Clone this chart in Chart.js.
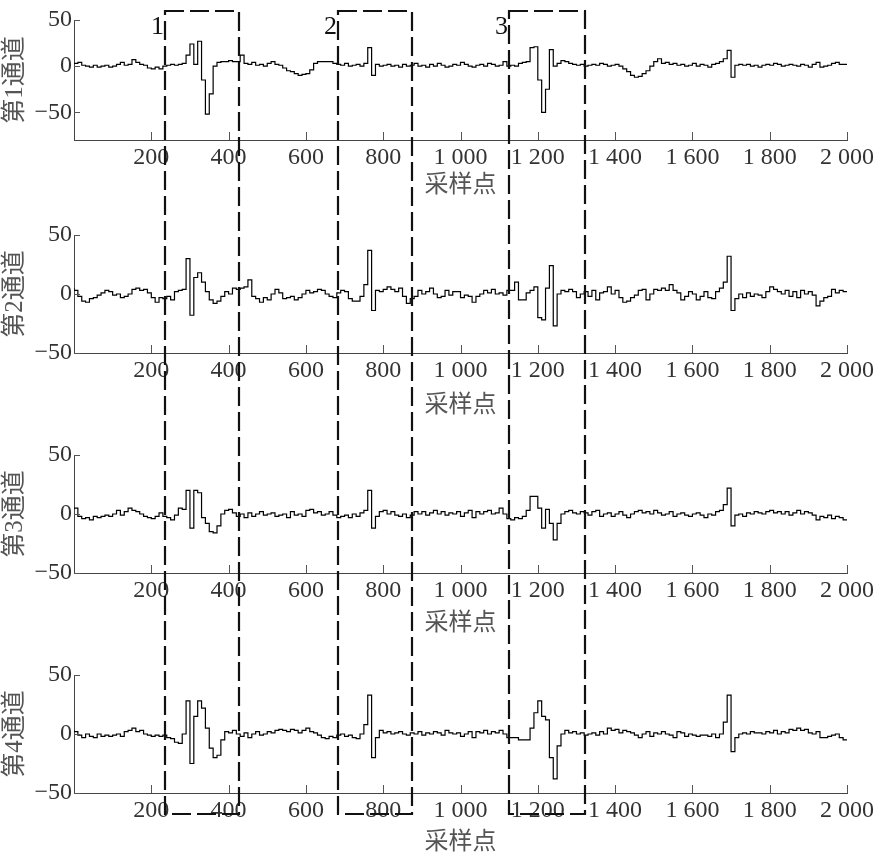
<!DOCTYPE html>
<html><head><meta charset="utf-8">
<script src="https://cdn.jsdelivr.net/npm/chart.js@4.4.1/dist/chart.umd.min.js"></script>
<style>
html,body{margin:0;padding:0;background:#fff;}
#wrap{position:relative;width:886px;height:862px;overflow:hidden;background:#fff;}
canvas{position:absolute;left:0;}
</style></head><body><div id="wrap">
<canvas id="c1" width="886" height="200" style="top:0px"></canvas>
<canvas id="c2" width="886" height="220" style="top:200px"></canvas>
<canvas id="c3" width="886" height="218" style="top:420px"></canvas>
<canvas id="c4" width="886" height="219" style="top:638px"></canvas>
<canvas id="ov" width="886" height="862" style="top:0px;pointer-events:none"></canvas>
</div>
<script>
// ---------- data ----------
const sampleStep = 10;               // one held value every 10 samples
const sampleCount = 201;             // 0 .. 2000
const samplePositions = Array.from({length: sampleCount}, (_, i) => i * sampleStep);

const channel1 = [
  2,3,4,1,0,-1,1,-1,0,1,
  -1,0,2,4,1,2,7,4,2,1,
  -2,-3,-1,-3,0,1,2,1,2,3,
  12,24,2,27,-15,-52,-30,0,4,5,
  5,6,5,5,12,3,2,4,1,2,
  0,3,5,2,1,-2,-5,-6,-8,-10,
  -9,-8,-4,3,5,5,5,5,3,2,
  1,3,0,1,2,0,3,20,-10,2,
  0,1,2,0,1,-1,2,0,1,3,
  0,1,-1,2,0,3,1,-1,0,2,
  1,4,2,0,-1,1,2,0,3,2,
  0,1,5,0,1,0,3,4,5,20,
  21,-15,-50,-25,18,0,3,6,5,3,
  2,1,2,0,1,2,1,3,2,0,
  1,2,0,-3,-6,-10,-12,-11,-8,-5,
  0,5,8,3,4,2,3,1,2,0,
  1,3,0,2,1,-1,2,3,5,8,
  17,-12,1,2,1,2,0,1,-1,1,
  2,1,3,2,0,1,2,1,0,2,
  1,-1,2,4,-1,0,1,3,4,2,
  2
];
const channel2 = [
  5,3,-2,-6,-7,-4,-3,-1,1,3,
  2,-1,0,-3,-2,0,4,5,3,4,
  1,-3,-7,-3,-4,-2,-5,2,3,4,
  30,-18,14,18,10,2,-5,-8,-6,-2,
  2,0,5,4,5,6,12,-2,-4,-7,
  -3,-5,0,4,1,-4,-3,-2,-5,-3,
  0,3,1,2,4,3,0,-2,-3,1,
  3,2,-4,-6,-6,-2,8,37,-14,3,
  2,4,6,4,2,5,-2,-8,-4,-2,
  3,0,2,5,0,-3,-2,3,-1,2,
  2,-3,-1,-2,-7,-2,0,3,1,4,
  0,1,-1,3,3,10,-5,-5,1,3,
  6,-20,-22,5,24,-27,0,3,2,4,
  2,-3,0,2,-2,3,-5,1,2,6,
  0,3,-3,-7,-6,-3,-1,3,4,-5,
  0,4,3,5,3,8,3,1,-5,-2,
  2,0,-5,-2,2,-3,-4,2,5,10,
  32,-14,-4,0,-3,1,-2,0,-1,-3,
  2,6,4,2,0,3,-2,2,-3,3,
  0,2,-1,-10,-6,-3,-2,4,1,3,
  2
];
const channel3 = [
  4,5,-2,-4,-3,-5,-2,-3,-2,-1,
  -2,0,3,-1,2,5,3,2,0,-2,
  -3,-4,-2,1,-2,-3,-5,-1,5,4,
  20,-12,20,18,-3,-8,-15,-16,-10,0,
  3,4,1,-2,0,-3,1,-2,0,2,
  -1,0,1,-2,-1,0,-3,2,-1,0,
  -2,3,4,1,2,-1,0,2,-1,-3,
  -2,-1,-3,0,-2,1,3,20,-12,-2,
  2,3,0,2,-1,-2,0,-3,-1,2,
  0,2,-1,1,3,0,2,-1,1,0,
  2,-2,1,3,-3,2,0,2,3,0,
  1,5,0,-4,-5,-3,-4,-2,3,15,
  15,5,-12,4,-8,-22,-8,0,2,3,
  1,0,2,1,-1,2,3,-2,0,1,
  -2,0,2,-1,-3,0,2,3,1,2,
  0,3,1,-1,0,2,-2,0,1,-1,
  -2,0,1,-1,-3,0,-1,2,3,8,
  22,-10,-1,0,-2,1,0,2,1,0,
  2,3,1,2,0,2,-1,1,3,0,
  2,1,-1,-5,-2,-3,-1,-4,-2,-3,
  -5
];
const channel4 = [
  3,2,-1,-3,0,-2,-3,0,-2,-1,
  -2,-1,0,-2,2,3,5,2,3,0,
  -1,-2,-1,-2,-1,-3,-4,-7,-8,0,
  28,-25,15,28,22,5,-12,-20,-18,-5,
  2,1,3,0,-2,1,-3,0,2,-1,
  0,2,1,3,4,3,2,4,3,1,
  3,5,2,1,-1,-3,-4,-2,-3,-1,
  0,-2,-1,-3,-4,0,8,33,-20,-3,
  3,1,2,0,1,2,0,-1,1,0,
  2,-1,1,0,2,1,-1,3,1,0,
  1,-2,0,2,-3,2,1,3,0,2,
  1,3,0,-3,-3,-3,-5,-5,-5,5,
  18,28,15,12,-20,-38,-10,0,3,1,
  2,0,1,-1,0,1,-1,2,0,5,
  3,4,1,3,2,1,-1,-3,0,2,
  -2,1,0,2,0,-1,-3,2,1,-2,
  0,-1,-2,-1,-1,-2,0,-3,0,10,
  33,-15,-3,0,1,0,2,1,1,0,
  2,1,3,0,2,1,4,3,5,3,
  4,1,0,2,-3,-3,-2,-1,0,-3,
  -5
];

const channelTitles = ['第1通道', '第2通道', '第3通道', '第4通道'];
const xAxisTitle = '采样点';
const xTickValues = [0, 200, 400, 600, 800, 1000, 1200, 1400, 1600, 1800, 2000];
const yTickValues = [-50, 0, 50];
const yRanges = [[-80, 50], [-50, 50], [-50, 50], [-50, 50]];
const boxStarts = [235, 683, 1125];
const boxEnds = [427, 875, 1322];
const boxLabels = ['1', '2', '3'];

// ---------- layout (pixels) ----------
const panelLayout = [
  {id: 'c1', padTop: 20, xHeight: 60},
  {id: 'c2', padTop: 35, xHeight: 67},
  {id: 'c3', padTop: 35, xHeight: 65},
  {id: 'c4', padTop: 37, xHeight: 64}
];
const boxTopPx = 11, boxBottomPx = 814;

const serif = "'Liberation Serif', 'Times New Roman', 'Noto Sans CJK SC', serif";
const fmtX = v => v === 0 ? '' : (v >= 1000 ? Math.floor(v / 1000) + ' ' + String(v % 1000).padStart(3, '0') : String(v));
const fmtY = v => v < 0 ? '\u2212' + Math.abs(v) : String(v);

const innerTicks = {
  id: 'innerTicks',
  afterDraw(chart) {
    const {ctx, chartArea: a, scales: {x, y}} = chart;
    ctx.save();
    ctx.strokeStyle = '#555';
    ctx.lineWidth = 1;
    ctx.beginPath();
    xTickValues.forEach(v => {
      if (v === 0) return;
      const px = Math.round(x.getPixelForValue(v)) + 0.5;
      ctx.moveTo(px, a.bottom);
      ctx.lineTo(px, a.bottom - 8);
    });
    yTickValues.forEach(v => {
      const py = Math.round(y.getPixelForValue(v)) + 0.5;
      ctx.moveTo(a.left, py);
      ctx.lineTo(a.left + 6, py);
    });
    ctx.stroke();
    ctx.restore();
  }
};

const channels = [channel1, channel2, channel3, channel4];
const charts = channels.map((vals, k) => {
  const L = panelLayout[k];
  return new Chart(document.getElementById(L.id), {
    type: 'line',
    data: {
      datasets: [{
        data: samplePositions.map((x, i) => ({x: x, y: vals[i]})),
        borderColor: '#000',
        borderWidth: 1.2,
        pointRadius: 0,
        stepped: 'after',
        fill: false
      }]
    },
    options: {
      responsive: false,
      animation: false,
      devicePixelRatio: 1,
      events: [],
      layout: {padding: {top: L.padTop, right: 39, left: 0, bottom: 0}},
      plugins: {legend: {display: false}, tooltip: {enabled: false}},
      scales: {
        x: {
          type: 'linear', min: 0, max: 2000,
          afterBuildTicks: s => { s.ticks = xTickValues.map(v => ({value: v})); },
          afterFit: s => { s.height = L.xHeight; },
          grid: {display: false, drawTicks: false},
          border: {display: true, color: '#444', width: 1},
          ticks: {
            callback: v => fmtX(v),
            font: {family: serif, size: 24},
            color: '#333', padding: 3,
            maxRotation: 0, autoSkip: false
          },
          title: {
            display: true, text: xAxisTitle,
            font: {family: serif, size: 24}, color: '#555',
            padding: 0
          }
        },
        y: {
          type: 'linear', min: yRanges[k][0], max: yRanges[k][1],
          afterBuildTicks: s => { s.ticks = yTickValues.map(v => ({value: v})); },
          afterFit: s => { s.width = 74; },
          grid: {display: false, drawTicks: false},
          border: {display: true, color: '#444', width: 1},
          ticks: {
            callback: v => fmtY(v),
            font: {family: serif, size: 24},
            color: '#333', padding: 2, autoSkip: false
          },
          title: {
            display: true, text: channelTitles[k],
            font: {family: serif, size: 25}, color: '#555',
            padding: 0
          }
        }
      }
    },
    plugins: [innerTicks]
  });
});

// ---------- dashed boxes across all panels ----------
const ov = document.getElementById('ov').getContext('2d');
const xScale = charts[0].scales.x;
ov.strokeStyle = '#111';
ov.lineWidth = 2.2;
ov.setLineDash([19, 6]);
ov.font = "26px " + serif;
ov.fillStyle = '#111';
ov.textAlign = 'right';
ov.textBaseline = 'top';
boxStarts.forEach((b0, i) => {
  const l = Math.round(xScale.getPixelForValue(b0));
  const r = Math.round(xScale.getPixelForValue(boxEnds[i]));
  ov.strokeRect(l, boxTopPx, r - l, boxBottomPx - boxTopPx);
  ov.fillText(boxLabels[i], l - 1, 14);
});
</script>
</body></html>
